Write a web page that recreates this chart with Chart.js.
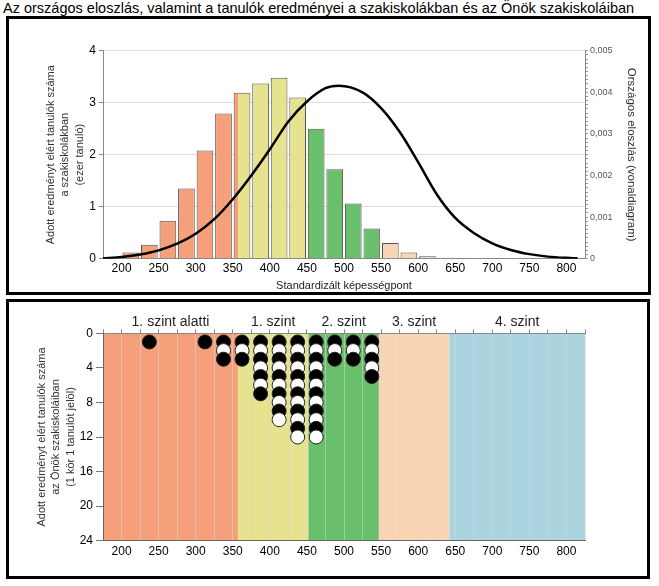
<!DOCTYPE html>
<html>
<head>
<meta charset="utf-8">
<script src="https://cdn.jsdelivr.net/npm/chart.js@4.4.1/dist/chart.umd.min.js"></script>
<style>
  body { margin: 0; background: #fff; font-family: 'Liberation Sans', Arial, sans-serif; }
  #title { position: absolute; left: 3px; top: 0px; font-size: 14.5px; line-height: 16px; color: #000; white-space: nowrap; }
  .frame { position: absolute; border: 3px solid #000; background: #fff; }
  #topFrame { left: 6px; top: 16px; width: 639px; height: 273px; }
  #bottomFrame { left: 6px; top: 299px; width: 638px; height: 274px; }
  canvas { display: block; }
</style>
</head>
<body>
<div id="title">Az országos eloszlás, valamint a tanulók eredményei a szakiskolákban és az Önök szakiskoláiban</div>
<div class="frame" id="topFrame"><canvas id="topChart" width="639" height="273"></canvas></div>
<div class="frame" id="bottomFrame"><canvas id="bottomChart" width="638" height="274"></canvas></div>

<script>
// szintek (képességpont határok)
const levelNames = ['1. szint alatti', '1. szint', '2. szint', '3. szint', '4. szint'];
const levelBounds = [175, 357, 452, 547, 642, 825];
const levelColors = ['#F5A07A', '#E6E28E', '#69BF6B', '#FAD5B4', '#AAD5E0'];

const xTickLabels = [200, 250, 300, 350, 400, 450, 500, 550, 600, 650, 700, 750, 800];

// szakiskolák eloszlása (ezer tanuló), 25 pontos sávok közepe
const binCenters = [212.5, 237.5, 262.5, 287.5, 312.5, 337.5, 362.5, 387.5, 412.5, 437.5,
                    462.5, 487.5, 512.5, 537.5, 562.5, 587.5, 612.5, 637.5, 662.5];
const binCounts = [0.12, 0.27, 0.73, 1.35, 2.08, 2.79, 3.19, 3.37, 3.48, 3.10,
                   2.50, 1.72, 1.06, 0.58, 0.30, 0.12, 0.045, 0.02, 0.006];

// országos eloszlás (vonaldiagram)
const curveX = [175, 200, 225, 250, 275, 300, 325, 350, 375, 400, 425, 450, 475, 493,
                525, 550, 575, 600, 625, 650, 675, 700, 725, 750, 775, 800, 815];
const curveY = [0.00001, 0.00004, 0.0001, 0.0002, 0.00036, 0.0006, 0.00095, 0.00143, 0.002, 0.00263,
                0.0033, 0.00378, 0.0041, 0.00416, 0.004, 0.00362, 0.00305, 0.00232, 0.00155,
                0.00098, 0.00062, 0.00037, 0.00021, 0.00011, 0.00005, 0.00002, 0.00001];

// Önök szakiskolái: tanulók száma sávonként (1 kör = 1 tanuló)
const dotBins = [237.5, 312.5, 337.5, 362.5, 387.5, 412.5, 437.5, 462.5, 487.5, 512.5, 537.5];
const dotCounts = [1, 1, 3, 3, 7, 10, 12, 12, 3, 3, 5];

Chart.defaults.font.family = "'Liberation Sans', Arial, sans-serif";

function levelGradient(chart) {
    const x = chart.scales.x;
    if (!chart.chartArea || !x) return levelColors[0];
    const lo = levelBounds[0];
    const span = levelBounds[levelBounds.length - 1] - lo;
    const g = chart.ctx.createLinearGradient(x.getPixelForValue(lo), 0, x.getPixelForValue(lo + span), 0);
    levelColors.forEach((c, i) => {
        g.addColorStop((levelBounds[i] - lo) / span, c);
        g.addColorStop((levelBounds[i + 1] - lo) / span, c);
    });
    return g;
}

function isMajor(v) {
    return Math.abs(v * 1000 - Math.round(v * 1000)) < 1e-6;
}

// felső diagram
new Chart(document.getElementById('topChart'), {
    type: 'bar',
    data: {
        datasets: [
            {
                type: 'line',
                data: curveX.map((x, i) => ({ x: x, y: curveY[i] })),
                yAxisID: 'y2',
                borderColor: '#000',
                borderWidth: 2.5,
                pointRadius: 0,
                cubicInterpolationMode: 'monotone',
                order: 0
            },
            {
                type: 'bar',
                data: binCenters.map((x, i) => ({ x: x, y: binCounts[i] })),
                yAxisID: 'y',
                backgroundColor: ctx => levelGradient(ctx.chart),
                borderColor: '#555',
                borderWidth: 1,
                barPercentage: 0.9,
                categoryPercentage: 1,
                order: 1
            }
        ]
    },
    options: {
        responsive: false,
        animation: false,
        devicePixelRatio: 1,
        layout: { padding: { top: 31.7, left: 0, right: 0, bottom: 0 } },
        plugins: { legend: { display: false }, tooltip: { enabled: false } },
        scales: {
            x: {
                type: 'linear',
                min: 175,
                max: 825,
                offset: false,
                afterBuildTicks: s => { s.ticks = xTickLabels.map(v => ({ value: v })); },
                afterFit: s => { s.height = 33.3; },
                grid: { display: false, drawTicks: false },
                border: { color: '#888' },
                ticks: { color: '#000', font: { size: 12 }, padding: 3, maxRotation: 0 },
                title: {
                    display: true,
                    text: 'Standardizált képességpont',
                    color: '#222',
                    font: { size: 11, lineHeight: 1.1 },
                    padding: { top: 0, bottom: 0 }
                }
            },
            y: {
                min: 0,
                max: 4,
                afterFit: s => { s.width = 94; },
                ticks: { stepSize: 1, color: '#000', font: { size: 12 }, padding: 3 },
                grid: { color: '#dcdcdc', tickLength: 4, tickColor: '#888' },
                border: { color: '#888' },
                title: {
                    display: true,
                    text: ['Adott eredményt elért tanulók száma', 'a szakiskolákban', '(ezer tanuló)'],
                    color: '#333',
                    font: { size: 11, lineHeight: 1.36 },
                    padding: { top: 34, bottom: 0 }
                }
            },
            y2: {
                position: 'right',
                min: 0,
                max: 0.005,
                afterFit: s => { s.width = 63; },
                ticks: {
                    stepSize: 0.0001,
                    autoSkip: false,
                    color: '#555',
                    font: { size: 9 },
                    padding: 2,
                    callback: v => isMajor(v) ? (v === 0 ? '0' : v.toFixed(3).replace('.', ',')) : ''
                },
                grid: { drawOnChartArea: false, tickLength: 3, tickColor: '#999' },
                border: { color: '#888' },
                title: {
                    display: true,
                    text: 'Országos eloszlás (vonaldiagram)',
                    color: '#333',
                    font: { size: 11.5, lineHeight: 1.3 },
                    padding: { top: 9, bottom: 0 }
                }
            }
        }
    }
});

// alsó diagram háttere és szintnevek
const levelBands = {
    id: 'levelBands',
    beforeDraw(chart) {
        const { ctx, chartArea, scales } = chart;
        ctx.save();
        levelColors.forEach((c, i) => {
            const x0 = scales.x.getPixelForValue(levelBounds[i]);
            const x1 = scales.x.getPixelForValue(levelBounds[i + 1]);
            ctx.fillStyle = c;
            ctx.fillRect(x0, chartArea.top, x1 - x0, chartArea.bottom - chartArea.top);
        });
        ctx.restore();
    },
    afterDraw(chart) {
        const { ctx, scales } = chart;
        ctx.save();
        ctx.font = "14px 'Liberation Sans', Arial, sans-serif";
        ctx.fillStyle = '#222';
        ctx.textAlign = 'center';
        ctx.textBaseline = 'middle';
        levelNames.forEach((name, i) => {
            const cx = (scales.x.getPixelForValue(levelBounds[i]) + scales.x.getPixelForValue(levelBounds[i + 1])) / 2;
            ctx.fillText(name, cx, 19.7);
        });
        ctx.restore();
    }
};

const dotPoints = [];
dotBins.forEach((x, i) => {
    for (let k = 1; k <= dotCounts[i]; k++) dotPoints.push({ x: x, y: k });
});

const minorTicks = [];
for (let v = 175; v <= 825; v += 25) minorTicks.push({ value: v });

new Chart(document.getElementById('bottomChart'), {
    type: 'scatter',
    data: {
        datasets: [{
            data: dotPoints,
            xAxisID: 'x',
            yAxisID: 'y',
            pointRadius: 7,
            pointBorderWidth: 1,
            pointBorderColor: '#222',
            pointBackgroundColor: ctx => (ctx.raw && ctx.raw.y % 2 === 1) ? '#000' : '#fff'
        }]
    },
    plugins: [levelBands],
    options: {
        responsive: false,
        animation: false,
        devicePixelRatio: 1,
        layout: { padding: { top: 0, left: 0, right: 62, bottom: 0 } },
        plugins: { legend: { display: false }, tooltip: { enabled: false } },
        scales: {
            x: {
                type: 'linear',
                position: 'bottom',
                min: 175,
                max: 825,
                afterBuildTicks: s => { s.ticks = xTickLabels.map(v => ({ value: v })); },
                afterFit: s => { s.height = 35.3; },
                grid: { display: false, drawTicks: false },
                border: { color: '#666' },
                ticks: { color: '#000', font: { size: 12 }, padding: 4, maxRotation: 0 }
            },
            x2: {
                type: 'linear',
                position: 'top',
                min: 175,
                max: 825,
                afterBuildTicks: s => { s.ticks = minorTicks.slice(); },
                afterFit: s => { s.height = 31.3; },
                ticks: { display: false },
                grid: { color: 'rgba(215,215,215,0.55)', tickLength: 4, tickColor: '#888' },
                border: { color: '#888' }
            },
            y: {
                reverse: true,
                min: 0,
                max: 24,
                afterFit: s => { s.width = 94; },
                ticks: { stepSize: 4, color: '#000', font: { size: 12 }, padding: 3 },
                grid: { drawOnChartArea: false, tickLength: 7, tickColor: '#777' },
                border: { color: '#666' },
                title: {
                    display: true,
                    text: ['Adott eredményt elért tanulók száma', 'az Önök szakiskoláiban', '(1 kör 1 tanulót jelöl)'],
                    color: '#333',
                    font: { size: 11, lineHeight: 1.3 },
                    padding: { top: 26, bottom: 0 }
                }
            }
        }
    }
});
</script>
</body>
</html>
